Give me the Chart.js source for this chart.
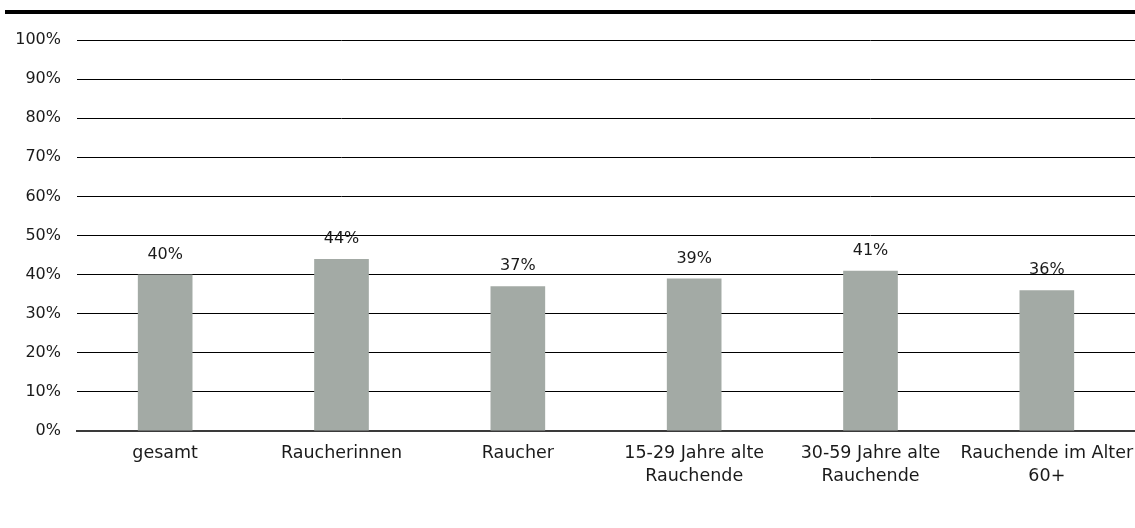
<!DOCTYPE html>
<html>
<head>
<meta charset="utf-8">
<script src="https://cdn.jsdelivr.net/npm/chart.js@4/dist/chart.umd.min.js"></script>
<style>
  html, body { margin: 0; padding: 0; background: #fff; }
  #wrap { width: 1135px; height: 528px; }
</style>
</head>
<body>
<div id="wrap"><canvas id="c" width="1135" height="528"></canvas></div>
<script>
const categories = [
  ["gesamt"],
  ["Raucherinnen"],
  ["Raucher"],
  ["15-29 Jahre alte", "Rauchende"],
  ["30-59 Jahre alte", "Rauchende"],
  ["Rauchende im Alter", "60+"]
];
const values = [40, 44, 37, 39, 41, 36];
const yMin = 0, yMax = 100, yStep = 10;

const FONT = "'DejaVu Sans', sans-serif";
const TEXT = "#1a1a1a";

const topRule = {
  id: 'topRule',
  beforeDraw(chart) {
    const ctx = chart.ctx;
    ctx.save();
    ctx.fillStyle = '#000';
    ctx.fillRect(5, 10, chart.width - 5, 4);
    ctx.restore();
  }
};

const barLabels = {
  id: 'barLabels',
  afterDatasetsDraw(chart) {
    const ctx = chart.ctx;
    const meta = chart.getDatasetMeta(0);
    const data = chart.data.datasets[0].data;
    ctx.save();
    ctx.font = "16px " + FONT;
    ctx.fillStyle = TEXT;
    ctx.textAlign = 'center';
    ctx.textBaseline = 'bottom';
    meta.data.forEach((bar, i) => {
      ctx.fillText(data[i] + '%', bar.x, bar.y - 12);
    });
    ctx.restore();
  }
};

new Chart(document.getElementById('c'), {
  type: 'bar',
  data: {
    labels: categories,
    datasets: [{
      data: values,
      backgroundColor: '#a3aaa5',
      borderWidth: 0,
      categoryPercentage: 1,
      barPercentage: 0.31
    }]
  },
  options: {
    responsive: false,
    animation: false,
    devicePixelRatio: 1,
    layout: { padding: { top: 40, left: 0, right: 0, bottom: 0 } },
    plugins: { legend: { display: false }, tooltip: { enabled: false } },
    scales: {
      x: {
        grid: { display: false, drawTicks: false },
        border: { display: true, color: '#3a3a3a', width: 2 },
        ticks: { color: TEXT, font: { family: FONT, size: 17.5, lineHeight: 1.32 }, padding: 11, maxRotation: 0, autoSkip: false },
        afterFit(scale) { scale.height = 97; scale.paddingLeft = 0; scale.paddingRight = 0; }
      },
      y: {
        min: yMin, max: yMax,
        grid: { color: '#000', lineWidth: 1, drawTicks: false },
        border: { display: false },
        ticks: {
          stepSize: yStep,
          color: TEXT,
          font: { family: FONT, size: 16 },
          padding: 16,
          callback: v => v + '%'
        },
        afterFit(scale) { scale.width = 77; }
      }
    }
  },
  plugins: [topRule, barLabels]
});
</script>
</body>
</html>
